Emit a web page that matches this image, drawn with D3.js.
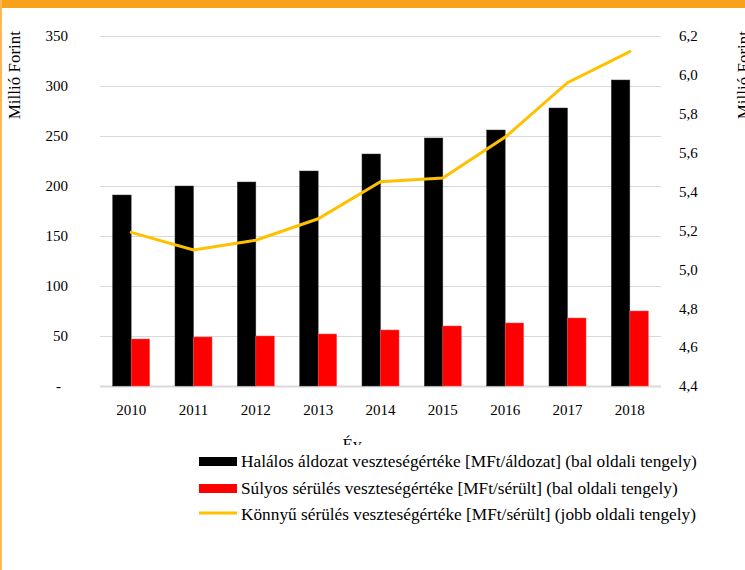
<!DOCTYPE html>
<html>
<head>
<meta charset="utf-8">
<script src="https://cdn.jsdelivr.net/npm/d3@7/dist/d3.min.js"></script>
<style>
  body { margin: 0; background: #fff; }
  svg { display: block; font-family: "Liberation Serif", "Times New Roman", serif; }
</style>
</head>
<body>
<div id="chart"></div>
<script>
const years = ['2010', '2011', '2012', '2013', '2014', '2015', '2016', '2017', '2018'];
const halalos = [191, 200, 204, 215, 232, 248, 256, 278, 306];
const sulyos = [47, 49, 50, 52, 56, 60, 63, 68, 75];
const konnyu = [5.19, 5.10, 5.15, 5.26, 5.45, 5.47, 5.68, 5.96, 6.12];
const leftTicks = [0, 50, 100, 150, 200, 250, 300, 350];
const rightTicks = [4.4, 4.6, 4.8, 5.0, 5.2, 5.4, 5.6, 5.8, 6.0, 6.2];
const legendLabels = [
  'Halálos áldozat veszteségértéke [MFt/áldozat] (bal oldali tengely)',
  'Súlyos sérülés veszteségértéke [MFt/sérült] (bal oldali tengely)',
  'Könnyű sérülés veszteségértéke [MFt/sérült] (jobb oldali tengely)'
];

const serif = '"Liberation Serif", "Times New Roman", serif';
const width = 745, height = 570;
const plot = { left: 100, right: 661, top: 36, bottom: 386 };

const svg = d3.select('#chart').append('svg')
  .attr('width', width)
  .attr('height', height)
  .attr('font-family', serif);

svg.append('rect').attr('width', width).attr('height', height).attr('fill', '#fff');

// orange frame (top band, thin left edge)
svg.append('rect').attr('x', 0).attr('y', 0).attr('width', width).attr('height', 8).attr('fill', '#f9a11b');
svg.append('rect').attr('x', 0).attr('y', 0).attr('width', 2).attr('height', height).attr('fill', '#fbb955');

const x = d3.scaleBand().domain(years).range([plot.left, plot.right]).paddingInner(0).paddingOuter(0);
const yL = d3.scaleLinear().domain([0, 350]).range([plot.bottom, plot.top]);
const yR = d3.scaleLinear().domain([4.4, 6.2]).range([plot.bottom, plot.top]);
const barW = x.bandwidth() * 0.297;

// d3 axes put sans-serif on their group; force the serif face on the labels
function styleAxis(g) {
  g.attr('font-family', serif);
  g.select('.domain').remove();
  g.selectAll('text')
    .attr('font-family', serif)
    .attr('font-size', 15)
    .attr('fill', '#000');
}

// left axis + gridlines
const leftAxis = svg.append('g')
  .attr('transform', `translate(${plot.left},0)`)
  .call(d3.axisLeft(yL).tickValues(leftTicks).tickSize(-(plot.right - plot.left)).tickPadding(32)
    .tickFormat(d => d === 0 ? '-' : d));
styleAxis(leftAxis);
leftAxis.selectAll('line').attr('stroke', '#d9d9d9').attr('stroke-width', 1);
leftAxis.selectAll('.tick').filter(d => d === 0).select('line').attr('stroke-width', 2);
leftAxis.selectAll('.tick').filter(d => d === 0).select('text').attr('x', -39);

// right axis
const fmt = d3.format('.1f');
const rightAxis = svg.append('g')
  .attr('transform', `translate(${plot.right},0)`)
  .call(d3.axisRight(yR).tickValues(rightTicks).tickSize(0).tickPadding(18)
    .tickFormat(d => fmt(d).replace('.', ',')));
styleAxis(rightAxis);

// bottom axis
const bottomAxis = svg.append('g')
  .attr('transform', `translate(0,${plot.bottom})`)
  .call(d3.axisBottom(x).tickSize(0).tickPadding(18));
styleAxis(bottomAxis);

// bars
svg.append('g').selectAll('rect')
  .data(halalos)
  .join('rect')
  .attr('x', (d, i) => x(years[i]) + x.bandwidth() / 2 - barW)
  .attr('y', d => yL(d))
  .attr('width', barW)
  .attr('height', d => yL(0) - yL(d))
  .attr('fill', '#000')
  .attr('stroke', '#3a3a3a')
  .attr('stroke-width', 0.5);

svg.append('g').selectAll('rect')
  .data(sulyos)
  .join('rect')
  .attr('x', (d, i) => x(years[i]) + x.bandwidth() / 2)
  .attr('y', d => yL(d))
  .attr('width', barW)
  .attr('height', d => yL(0) - yL(d))
  .attr('fill', '#ff0000')
  .attr('stroke', '#ff5050')
  .attr('stroke-width', 0.5);

// line
const line = d3.line()
  .x((d, i) => x(years[i]) + x.bandwidth() / 2)
  .y(d => yR(d));
svg.append('path')
  .datum(konnyu)
  .attr('d', line)
  .attr('fill', 'none')
  .attr('stroke', '#ffc000')
  .attr('stroke-width', 3)
  .attr('stroke-linecap', 'round');

// axis titles
svg.append('text')
  .attr('transform', 'translate(20,31) rotate(-90)')
  .attr('text-anchor', 'end')
  .attr('font-size', 17)
  .text('Millió Forint');
svg.append('text')
  .attr('transform', 'translate(749,31) rotate(-90)')
  .attr('text-anchor', 'end')
  .attr('font-size', 17)
  .text('Millió Forint');
svg.append('text')
  .attr('x', 352)
  .attr('y', 450)
  .attr('text-anchor', 'middle')
  .attr('font-size', 17)
  .text('Év');

// legend (its white box hides the bottom of the x title)
const legend = svg.append('g');
legend.append('rect').attr('x', 192).attr('y', 445).attr('width', 530).attr('height', 85).attr('fill', '#fff');
const rowY = [467, 494, 520];
const items = legend.selectAll('g.item')
  .data(legendLabels)
  .join('g')
  .attr('class', 'item')
  .attr('transform', (d, i) => `translate(0,${rowY[i]})`);
items.each(function (d, i) {
  const g = d3.select(this);
  if (i < 2) {
    g.append('rect').attr('x', 199).attr('y', -10).attr('width', 38).attr('height', 9)
      .attr('fill', i === 0 ? '#000' : '#ff0000');
  } else {
    g.append('line').attr('x1', 199).attr('x2', 237).attr('y1', -7).attr('y2', -7)
      .attr('stroke', '#ffc000').attr('stroke-width', 3);
  }
  g.append('text').attr('x', 241).attr('y', 0).attr('font-size', 17.3).text(d);
});
</script>
</body>
</html>
